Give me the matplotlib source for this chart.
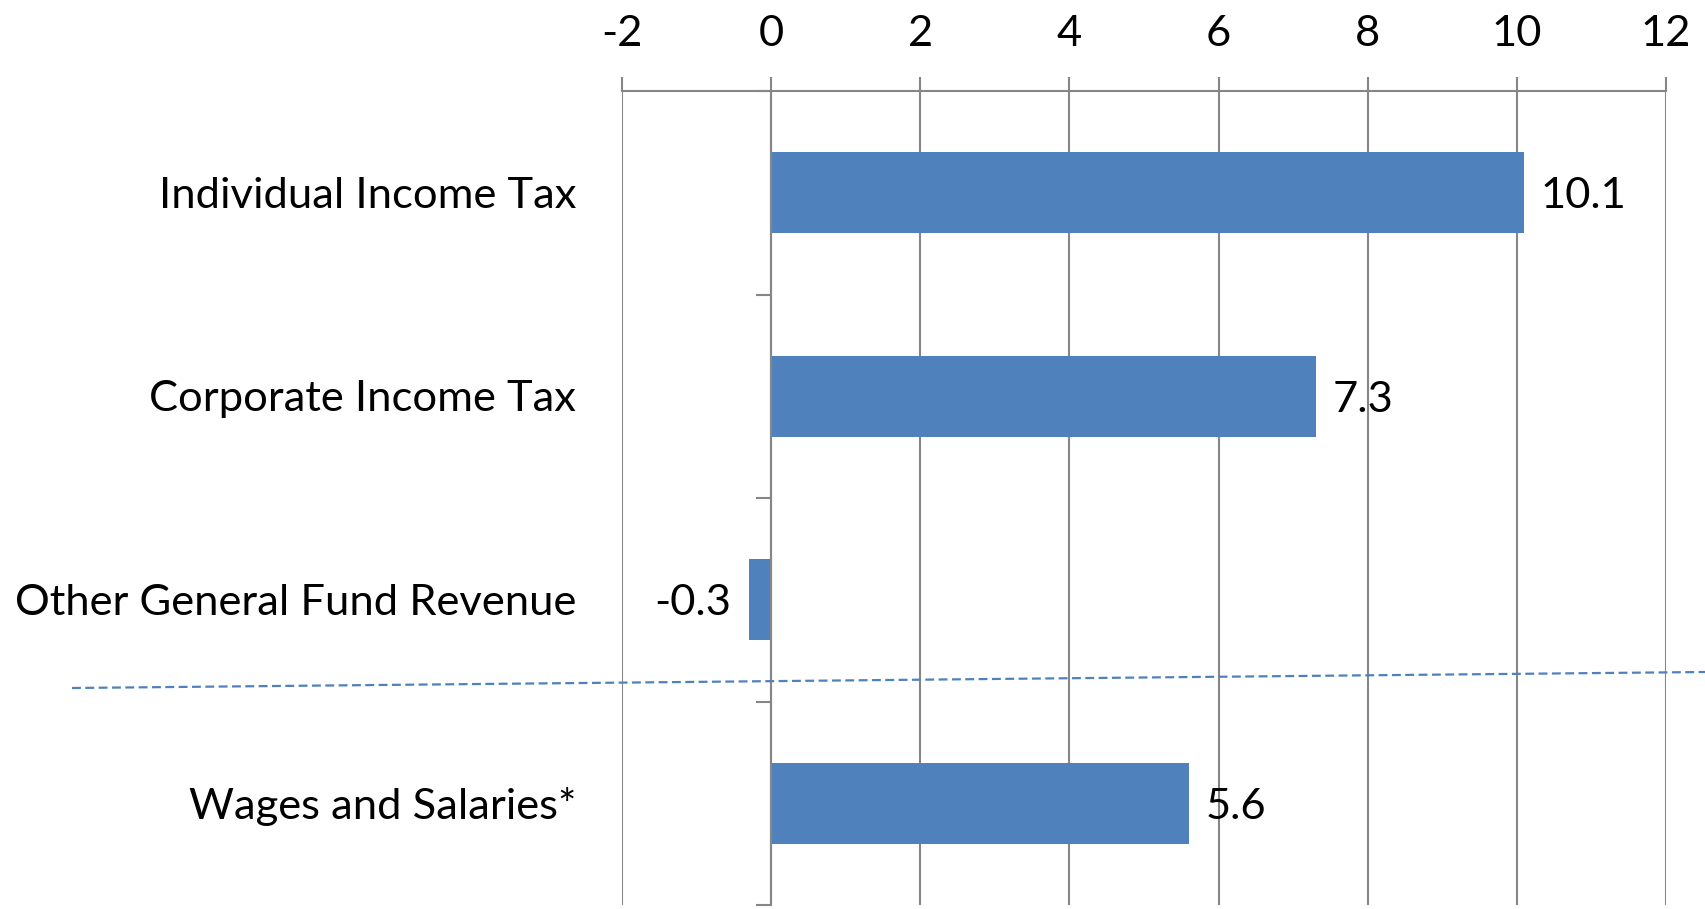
import matplotlib
matplotlib.use("Agg")
import matplotlib.pyplot as plt
from matplotlib.lines import Line2D
import matplotlib.transforms as mtransforms

categories = ["Individual Income Tax", "Corporate Income Tax",
              "Other General Fund Revenue", "Wages and Salaries*"]
values = [10.1, 7.3, -0.3, 5.6]
value_labels = ["10.1", "7.3", "-0.3", "5.6"]
xticks = [-2, 0, 2, 4, 6, 8, 10, 12]
xtick_labels = ["-2", "0", "2", "4", "6", "8", "10", "12"]

BLUE = "#4F81BD"
GRID = "#868686"
FONT = "Lato"
FS = 31.3

W, H = 1705, 909
fig = plt.figure(figsize=(W / 100, H / 100), dpi=100)
ax = fig.add_axes([622 / W, 4 / H, (1666 - 622) / W, (905 - 91) / H])

y = list(range(len(categories)))
ax.barh(y, values, height=0.4, color=BLUE, zorder=3)

ax.set_xlim(-2, 12)
ax.set_ylim(len(categories) - 0.5, -0.5)

# x axis on top
ax.xaxis.set_ticks_position("top")
ax.set_xticks(xticks)
ax.set_xticklabels(xtick_labels, fontsize=FS, family=FONT)
ax.tick_params(axis="x", direction="out", length=10, width=1.5, color=GRID, pad=17)
ax.grid(axis="x", color=GRID, linewidth=1.5, zorder=0)

# category axis at x = 0
ax.spines["left"].set_position(("data", 0))
ax.spines["left"].set_color(GRID)
ax.spines["left"].set_linewidth(1.5)
ax.spines["left"].set_zorder(4)
ax.spines["top"].set_color(GRID)
ax.spines["top"].set_linewidth(1.5)
ax.spines["right"].set_visible(False)
ax.spines["bottom"].set_visible(False)
ax.set_yticks([i - 0.5 for i in range(len(categories) + 1)])
ax.set_yticklabels([])
ax.tick_params(axis="y", direction="out", length=11, width=1.5, color=GRID)

# category labels
trans = mtransforms.blended_transform_factory(ax.transAxes, ax.transData)
for i, c in enumerate(categories):
    ax.annotate(c, xy=(0, i), xycoords=trans, xytext=(-33, -2),
                textcoords="offset points", ha="right", va="center",
                fontsize=FS, family=FONT, color="black")

# value labels
for i, (v, lab) in enumerate(zip(values, value_labels)):
    off = 12 if v >= 0 else -13
    ax.annotate(lab, xy=(v, i), xytext=(off, -2.5), textcoords="offset points",
                ha="left" if v >= 0 else "right", va="center",
                fontsize=FS, family=FONT, color="black", zorder=5)

# dashed separator line (figure pixel coordinates, slightly slanted)
sep = Line2D([72 / W, 1705 / W], [1 - 688 / H, 1 - 672 / H],
             transform=fig.transFigure, color=BLUE, linewidth=1.6,
             linestyle=(0, (4, 2)), zorder=10)
fig.add_artist(sep)

fig.savefig("out.png", dpi=100)
